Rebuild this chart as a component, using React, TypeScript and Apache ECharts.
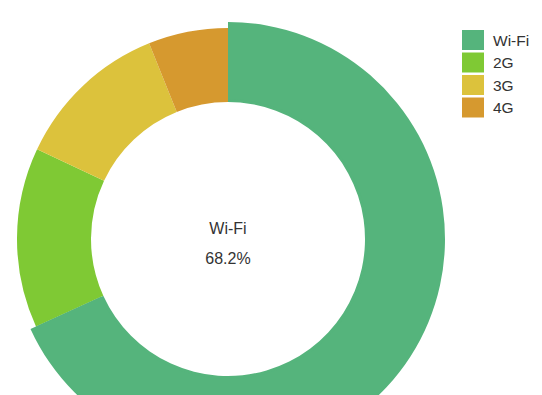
import React, { useEffect, useRef } from "react";
import * as echarts from "echarts";

const categories = ["Wi-Fi", "2G", "3G", "4G"];
const shares = [68.2, 13.8, 11.9, 6.1];
const colors = ["#55b47c", "#7fc934", "#dcc23c", "#d6992f"];
const highlighted = 0;

export default function App() {
  const ref = useRef<HTMLDivElement>(null);
  useEffect(() => {
    document.body.style.margin = "0";
    const chart = echarts.init(ref.current!, undefined, { renderer: "svg" });
    const baseData = categories.map((c, i) => ({
      name: c,
      value: shares[i],
      itemStyle: { color: colors[i] },
    }));
    const hlData = categories.map((c, i) => ({
      name: c,
      value: shares[i],
      itemStyle: { color: i === highlighted ? colors[i] : "rgba(0,0,0,0)" },
    }));
    const font = "Liberation Sans, Arial, sans-serif";
    chart.setOption({
      animation: false,
      legend: {
        orient: "vertical",
        left: 462,
        top: 30,
        padding: 0,
        itemWidth: 22,
        itemHeight: 20,
        itemGap: 2.5,
        icon: "rect",
        selectedMode: false,
        data: categories.map((c, i) => ({ name: c, itemStyle: { color: colors[i] } })),
        textStyle: {
          fontSize: 15.5,
          color: "#333",
          fontFamily: font,
          padding: [0, 0, 0, 4],
        },
      },
      graphic: [
        {
          type: "text",
          x: 228,
          y: 228,
          style: {
            text: categories[highlighted],
            fontSize: 16,
            fill: "#333",
            align: "center",
            verticalAlign: "middle",
            fontFamily: font,
          },
        },
        {
          type: "text",
          x: 228,
          y: 258,
          style: {
            text: shares[highlighted].toFixed(1) + "%",
            fontSize: 16,
            fill: "#333",
            align: "center",
            verticalAlign: "middle",
            fontFamily: font,
          },
        },
      ],
      series: [
        {
          type: "pie",
          center: [228, 239],
          radius: [137, 211],
          startAngle: 90,
          clockwise: true,
          silent: true,
          label: { show: false },
          labelLine: { show: false },
          data: baseData,
        },
        {
          type: "pie",
          center: [228, 239],
          radius: [140, 217],
          startAngle: 90,
          clockwise: true,
          silent: true,
          label: { show: false },
          labelLine: { show: false },
          data: hlData,
        },
      ],
    });
    return () => chart.dispose();
  }, []);
  return (
    <div
      ref={ref}
      style={{ width: 542, height: 395, position: "absolute", left: 0, top: 0 }}
    />
  );
}
